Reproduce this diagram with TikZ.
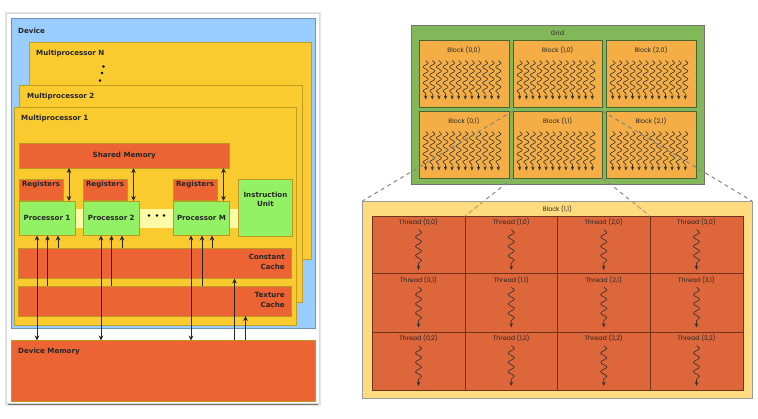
\documentclass[tikz,border=0pt]{standalone}
\usepackage{fontspec}
\setmainfont{DejaVu Sans}
\newfontfamily\geofont{Poppins}
\usetikzlibrary{decorations.pathmorphing,arrows.meta,calc}
\definecolor{devblue}{HTML}{99CCFF}
\definecolor{mpyellow}{HTML}{F9CB2F}
\definecolor{memred}{HTML}{EC6433}
\definecolor{procgreen}{HTML}{93F263}
\definecolor{paleband}{HTML}{FFFAA6}
\definecolor{gridgreen}{HTML}{83B85A}
\definecolor{blockorange}{HTML}{F4AE45}
\definecolor{bigblock}{HTML}{FFDB80}
\definecolor{cellred}{HTML}{DD663A}
\tikzset{
  pbox/.style={draw=#1,line width=0.8pt,inner sep=0pt,outer sep=0pt,anchor=north west},
  pbox/.default={black!30},
  devbox/.style={pbox=black!28!devblue,fill=devblue},
  mpbox/.style={pbox=black!22!mpyellow,fill=mpyellow},
  membox/.style={pbox=black!25!mpyellow,fill=memred},
  procbox/.style={pbox=black!25!mpyellow,fill=procgreen,font=\bfseries\fontsize{7.1}{8}\selectfont,text=black!85},
  gridbox/.style={pbox=black!55,fill=gridgreen},
  blockbox/.style={pbox=black!45!gridgreen,fill=blockorange},
  bigbox/.style={pbox=black!40,fill=bigblock},
  cellbox/.style={pbox=black!50!cellred,fill=cellred},
  boldlabel/.style={inner sep=0pt,font=\bfseries\fontsize{7.1}{9.4}\selectfont,text=black!85},
  geolabel/.style={inner sep=0pt,font=\geofont\fontsize{6.3}{7}\selectfont,text=black!85},
  link/.style={line width=0.8pt,draw=black!85,-{Stealth[length=5pt,width=4.6pt]}},
  twoway/.style={line width=0.8pt,draw=black!85,{Stealth[length=5pt,width=4.6pt]}-{Stealth[length=5pt,width=4.6pt]}},
  dotmark/.style={circle,fill=black,inner sep=0pt,minimum size=2.8pt},
  smallwave/.style={line width=0.6pt,draw=black!80,-{Stealth[length=4pt,width=3.4pt]},
    decorate,decoration={snake,amplitude=2.6pt,segment length=8pt,post length=3pt}},
  bigwave/.style={line width=0.65pt,draw=black!80,-{Stealth[length=4.2pt,width=3.6pt]},
    decorate,decoration={snake,amplitude=3pt,segment length=9.3pt,post length=4pt}},
  zoomline/.style={line width=1pt,draw=black!48,dash pattern=on 4pt off 3.5pt},
  zoomfaint/.style={line width=1pt,draw=black!18!bigblock,dash pattern=on 4pt off 3.5pt},
}
\newcommand{\pxbox}[6]{\node[#6,minimum width={(#4-#2)*1pt},minimum height={(#5-#3)*1pt}] (#1) at (#2,#3) {};}
\begin{document}
\begin{tikzpicture}[x=1pt,y=-1pt]
\useasboundingbox (0,0) rectangle (758,419);
% outer frame with shadow
\fill[black!10] (4.5,12) rectangle (320.5,406);
\fill[black!55] (8,20) rectangle (318,405.5);
\node[pbox=black!15,fill=white,minimum width=313pt,minimum height=390pt] (frame) at (6,13) {};
% left: device
\pxbox{dev}{11}{18}{315}{328}{devbox}
\node[boldlabel,anchor=west] (devl) at (18,30.5) {Device};
\pxbox{mpn}{29}{42}{311}{259}{mpbox}
\node[boldlabel,anchor=west] (mpnl) at (36,53.5) {Multiprocessor N};
\node[dotmark] (d1) at (103.5,66.5) {};
\node[dotmark] (d2) at (102,73) {};
\node[dotmark] (d3) at (100,80.5) {};
\pxbox{mptwo}{19}{85}{302}{302}{mpbox}
\node[boldlabel,anchor=west] (mptl) at (27,96.5) {Multiprocessor 2};
\pxbox{mpone}{14}{107.5}{296}{325}{mpbox}
\node[boldlabel,anchor=west] (mpol) at (21,119) {Multiprocessor 1};
\node[pbox=paleband,fill=paleband,minimum width=163pt,minimum height=18pt] (band) at (75,209) {};
\node[membox,minimum width=210.5pt,minimum height=24.5pt,font=\bfseries\fontsize{7.1}{8}\selectfont,text=black!85] (shm) at (19,143.5) {Shared Memory};
\foreach \n/\xa in {a/19,b/83,c/173}{
  \pxbox{reg\n}{\xa}{179}{\xa+44}{200.5}{membox}
  \node[boldlabel,anchor=center] (regl\n) at (\xa+22,184.5) {Registers};
}
\node[procbox,minimum width=56pt,minimum height=34.5pt] (pa) at (19,201) {Processor 1};
\node[procbox,minimum width=56.5pt,minimum height=34.5pt] (pb) at (83,201) {Processor 2};
\node[procbox,minimum width=56pt,minimum height=34.5pt] (pc) at (173.5,201) {Processor M};
\foreach \n/\xa in {e/149,f/157,g/164}{\node[dotmark] (dd\n) at (\xa,215.5) {};}
\pxbox{instr}{238.5}{179.5}{292.5}{236}{procbox}
\node[boldlabel,align=center] (instrl) at (265.5,199.5) {Instruction\\Unit};
\pxbox{ccache}{18}{248}{291}{278.5}{membox}
\node[boldlabel,align=right,anchor=east] (ccl) at (285,262) {Constant\\Cache};
\pxbox{tcache}{18}{286}{291}{316}{membox}
\node[boldlabel,align=right,anchor=east] (tcl) at (285,300) {Texture\\Cache};
\pxbox{dmem}{11}{340.5}{315}{401.5}{membox}
\node[boldlabel,anchor=west] (dml) at (18,352) {Device Memory};
% left connectors
\foreach \xa/\n in {69/a,133.5/b,223.5/c}{
  \draw[twoway] (\xa,0 |- shm.south) -- (\xa,0 |- pa.north);
}
\foreach \xa/\n in {37/pa,101/pb,191/pc}{
  \draw[twoway] (\xa,0 |- \n.south) -- (\xa,0 |- dmem.north);
}
\foreach \xa/\n in {47.5/pa,111.5/pb,202/pc}{
  \draw[link] (\xa,0 |- tcache.north) -- (\xa,0 |- \n.south);
}
\foreach \xa/\n in {58/pa,122/pb,212/pc}{
  \draw[link] (\xa,0 |- ccache.north) -- (\xa,0 |- \n.south);
}
\draw[link] (234.5,0 |- dmem.north) -- (234.5,0 |- ccache.south);
\draw[link] (245.5,0 |- dmem.north) -- (245.5,0 |- tcache.south);
% right: grid
\pxbox{grid}{411}{25.5}{704}{184}{gridbox}
\node[geolabel] (gridl) at (557.5,33) {Grid};
\foreach \col/\xa/\xb in {0/419/509,1/513/602.5,2/606/696}{
  \foreach \row/\ya/\yb in {0/40/107,1/111/178}{
    \pxbox{b\col\row}{\xa}{\ya}{\xb}{\yb}{blockbox}
    \node[geolabel] (bl\col\row) at ($(b\col\row.north)+(0,10.5)$) {Block (\col,\row)};
    \foreach \i in {0,...,11}{
      \draw[smallwave] ($(b\col\row.north west)+(6.7+6.6*\i,20.5)$) -- ($(b\col\row.north west)+(6.7+6.6*\i,59.5)$);
    }
  }
}
% right: enlarged block
\pxbox{big}{362.5}{201}{752}{398}{bigbox}
\node[geolabel] (bigl) at (557.5,209) {Block (1,1)};
\foreach \col/\xa/\xb in {0/372/465,1/465/557.5,2/557.5/650,3/650/743}{
  \foreach \row/\ya/\yb in {0/216/273.5,1/273.5/332,2/332/390}{
    \pxbox{c\col\row}{\xa}{\ya}{\xb}{\yb}{cellbox}
    \node[geolabel] (cl\col\row) at ($(c\col\row.north)+(0,6.5)$) {Thread (\col,\row)};
    \draw[bigwave] ($(c\col\row.north)+(0,13.5)$) -- ($(c\col\row.north)+(0,54)$);
  }
}
% zoom lines
\draw[zoomline] (b11.north west) -- (big.north west);
\draw[zoomline] (b11.north east) -- (big.north east);
\draw[zoomline] (b11.south west) -- (c10.north west);
\draw[zoomline] (b11.south east) -- (c30.north west);
\draw[zoomfaint] ($(b11.south west)!0.6!(c10.north west)$) -- (c10.north west);
\draw[zoomfaint] ($(b11.south east)!0.6!(c30.north west)$) -- (c30.north west);
\end{tikzpicture}
\end{document}
